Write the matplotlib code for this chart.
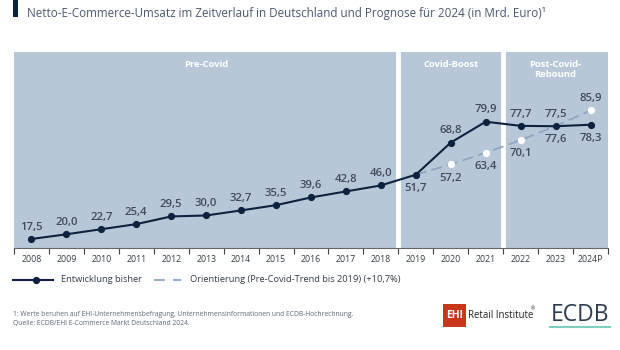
import matplotlib
matplotlib.use("Agg")
import matplotlib.pyplot as plt
from matplotlib.lines import Line2D
from matplotlib.patches import Rectangle

plt.rcParams["font.family"] = ["Open Sans", "DejaVu Sans"]

# data
years = ["2008", "2009", "2010", "2011", "2012", "2013", "2014", "2015", "2016",
         "2017", "2018", "2019", "2020", "2021", "2022", "2023", "2024P"]
umsatz = [17.5, 20.0, 22.7, 25.4, 29.5, 30.0, 32.7, 35.5, 39.6,
          42.8, 46.0, 51.7, 68.8, 79.9, 77.7, 77.5, 78.3]
trend_years = ["2019", "2020", "2021", "2022", "2023", "2024P"]
trend = [51.7, 57.2, 63.4, 70.1, 77.6, 85.9]
phases = ["Pre-Covid", "Covid-Boost", "Post-Covid-\nRebound"]
phase_start = ["2008", "2019", "2022"]
phase_end = ["2018", "2021", "2024P"]

navy = "#0e2240"
lbl = "#3e4c5e"
panel = "#b8c7d7"
trendc = "#8ea6c3"

def fmt(v):
    return f"{v:.1f}".replace(".", ",")

fig = plt.figure(figsize=(6.2, 3.5), dpi=100)
ax = fig.add_axes([14/620, 1-248/350, 594/620, 196/350])

xi = {y: i for i, y in enumerate(years)}
x = list(range(len(years)))

for name, a, b in zip(phases, phase_start, phase_end):
    ax.axvspan(xi[a] - 0.5, xi[b] + 0.5, color=panel, lw=0, zorder=0)
    ax.text((xi[a] + xi[b]) / 2, 113, name, ha="center", va="top", color="white",
            fontsize=6.8, fontweight="bold", linespacing=1.2)
for b in phase_end[:-1]:
    ax.axvline(xi[b] + 0.5, color="white", lw=3.5, zorder=1)

tx = [xi[y] for y in trend_years]
ax.plot(tx, trend, color=trendc, lw=1.3, dashes=(6, 3), zorder=2)
ax.plot(tx[1:], trend[1:], "o", color="white", ms=4.2, mec="white", zorder=3)
ax.plot(x, umsatz, "-o", color=navy, lw=1.5, ms=4.2, zorder=4)

below = ["2019", "2024P"]
for xv, v in zip(x, umsatz):
    if years[xv] in below:
        ax.annotate(fmt(v), (xv, v), xytext=(0, -6), textcoords="offset points",
                    ha="center", va="top", fontsize=8.2, color=lbl, fontweight="semibold")
    else:
        ax.annotate(fmt(v), (xv, v), xytext=(0, 4.5), textcoords="offset points",
                    ha="center", va="bottom", fontsize=8.2, color=lbl, fontweight="semibold")
for xv, v in zip(tx[1:], trend[1:]):
    if v == trend[-1]:
        ax.annotate(fmt(v), (xv, v), xytext=(0, 4.5), textcoords="offset points",
                    ha="center", va="bottom", fontsize=8.2, color=lbl, fontweight="semibold")
    else:
        ax.annotate(fmt(v), (xv, v), xytext=(0, -6), textcoords="offset points",
                    ha="center", va="top", fontsize=8.2, color=lbl, fontweight="semibold")

ax.set_xlim(-0.5, len(years) - 0.5)
ax.set_ylim(12.7, 117)
ax.set_yticks([])
ax.set_xticks(x)
ax.set_xticklabels(years)
ax.set_xticks([i - 0.5 for i in range(len(years) + 1)], minor=True)
ax.tick_params(axis="x", which="major", length=0, labelsize=6.3, labelcolor="#333d4a", pad=5)
ax.tick_params(axis="x", which="minor", length=4, width=0.8, color="#444", direction="out")
for s in ["top", "left", "right"]:
    ax.spines[s].set_visible(False)
ax.spines["bottom"].set_color("#666")
ax.spines["bottom"].set_linewidth(0.8)

# title
fig.add_artist(Rectangle((13/620, 1-17/350), 5/620, 17/350, color=navy, lw=0))
fig.text(27/620, 1-13/350, "Netto-E-Commerce-Umsatz im Zeitverlauf in Deutschland und Prognose für 2024 (in Mrd. Euro)\u00b9",
         fontsize=8.4, color="#4a5a6e", va="center")

# legend
ly = 1 - 280/350
fig.add_artist(Line2D([13/620, 53/620], [ly, ly], color=navy, lw=1.5))
fig.add_artist(Line2D([36/620], [ly], marker="o", color=navy, ms=4.2))
fig.text(61/620, ly, "Entwicklung bisher", fontsize=6.7, color="#333d4a", va="center")
fig.add_artist(Line2D([154/620, 184/620], [ly, ly], color=trendc, lw=1.3, dashes=(6, 3)))
fig.add_artist(Line2D([169/620], [ly], marker="o", color="white", ms=4.2))
fig.text(190/620, ly, "Orientierung (Pre-Covid-Trend bis 2019) (+10,7%)", fontsize=6.7,
         color="#333d4a", va="center")

# footnote
fig.text(13/620, 1-314/350, "1: Werte beruhen auf EHI-Unternehmensbefragung, Unternehmensinformationen und ECDB-Hochrechnung.",
         fontsize=4.9, color="#5a6878", va="center")
fig.text(13/620, 1-323/350, "Quelle: ECDB/EHI E-Commerce Markt Deutschland 2024.",
         fontsize=4.9, color="#5a6878", va="center")

# logos
fig.add_artist(Rectangle((443/620, 1-327/350), 23/620, 23/350, color="#c8361b", lw=0))
fig.text(454.5/620, 1-315.5/350, "EHI", fontsize=7.5, color="white", fontweight="bold",
         ha="center", va="center")
fig.text(468/620, 1-315.5/350, "Retail Institute", fontsize=6.9, color="#222", va="center")
fig.text(531/620, 1-309/350, "\u00ae", fontsize=3.5, color="#222", va="center")
fig.text(580/620, 1-315/350, "ECDB", fontsize=16.5, color="#2c3b50", ha="center", va="center")
fig.add_artist(Line2D([550/620, 610/620], [1-327/350, 1-327/350], color="#7fd0c0", lw=1.5))

fig.savefig("out.png", dpi=100)
